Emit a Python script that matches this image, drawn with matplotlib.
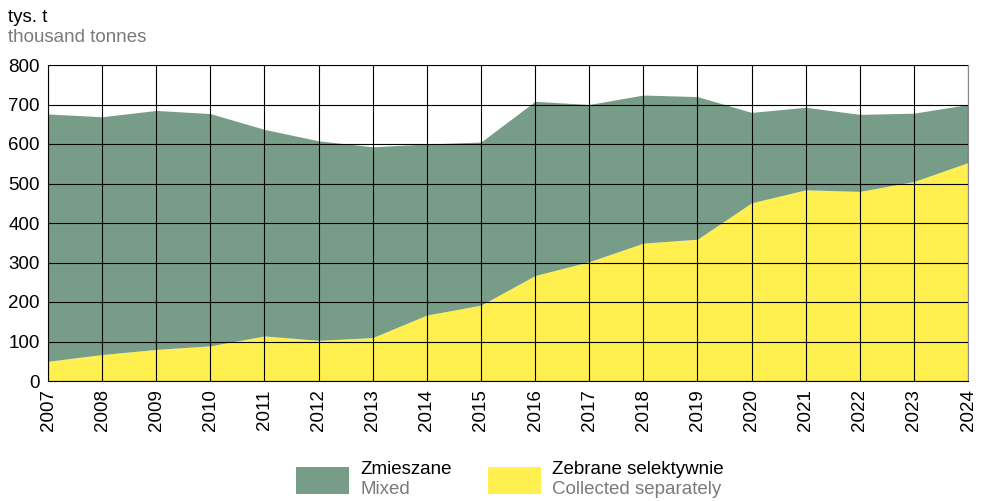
import numpy as np
import matplotlib.pyplot as plt
from matplotlib.patches import Rectangle

plt.rcParams['font.family'] = ['Liberation Sans', 'DejaVu Sans']

# -- Data (thousand tonnes) ----------------------------------------------------
YEARS = list(range(2007, 2025))
TOTAL = [676, 669, 685, 677, 637, 608, 593, 600, 605,
         708, 700, 724, 720, 680, 693, 675, 678, 700]
SELECTIVE = [50, 67, 80, 89, 114, 103, 110, 167, 192,
             267, 302, 349, 359, 451, 484, 480, 505, 553]
LABEL_MIXED = ('Zmieszane', 'Mixed')
LABEL_SEL = ('Zebrane selektywnie', 'Collected separately')
# ------------------------------------------------------------------------------

GREEN = '#779d88'
YELLOW = '#fff050'
GREY_TXT = '#7a7a7a'
FS = 13.5


def main():
    years = np.array(YEARS)
    total = np.array(TOTAL)
    sel = np.array(SELECTIVE)

    fig = plt.figure(figsize=(9.82, 5.01), dpi=100)
    W, H = 982, 501
    ax = fig.add_axes([48 / W, 1 - 381 / H, 920 / W, 316 / H])

    ax.fill_between(years, 0, sel, color=YELLOW, lw=0, zorder=1)
    ax.fill_between(years, sel, total, color=GREEN, lw=0, zorder=1)

    ax.set_xlim(2007, 2024)
    ax.set_ylim(0, 800)
    ax.set_xticks(years)
    ax.set_xticklabels([str(y) for y in years], rotation=90, fontsize=FS)
    ax.set_yticks(np.arange(0, 801, 100))
    ax.tick_params(axis='y', labelsize=FS, length=0, pad=6)
    ax.tick_params(axis='x', length=0, pad=6)
    ax.grid(True, color='black', lw=0.8, zorder=2)
    ax.set_axisbelow(False)
    for s in ('top', 'right'):
        ax.spines[s].set_color('#888888')
        ax.spines[s].set_linewidth(0.8)
    for s in ('left', 'bottom'):
        ax.spines[s].set_color('black')
        ax.spines[s].set_linewidth(0.8)

    fig.text(8 / W, 1 - 18 / H, 'tys. t', fontsize=FS, va='center', ha='left')
    fig.text(8 / W, 1 - 37 / H, 'thousand tonnes', fontsize=FS, va='center',
             ha='left', color=GREY_TXT)

    # legend
    for x0, color, (pl, en) in [(296, GREEN, LABEL_MIXED), (488, YELLOW, LABEL_SEL)]:
        fig.patches.append(Rectangle((x0 / W, 1 - 494 / H), 53 / W, 27 / H,
                                     transform=fig.transFigure, color=color,
                                     lw=0))
        fig.text((x0 + 64) / W, 1 - 469 / H, pl, fontsize=FS, va='center')
        fig.text((x0 + 64) / W, 1 - 489 / H, en, fontsize=FS, va='center',
                 color=GREY_TXT)

    fig.savefig('out.png', dpi=100)


if __name__ == '__main__':
    main()
